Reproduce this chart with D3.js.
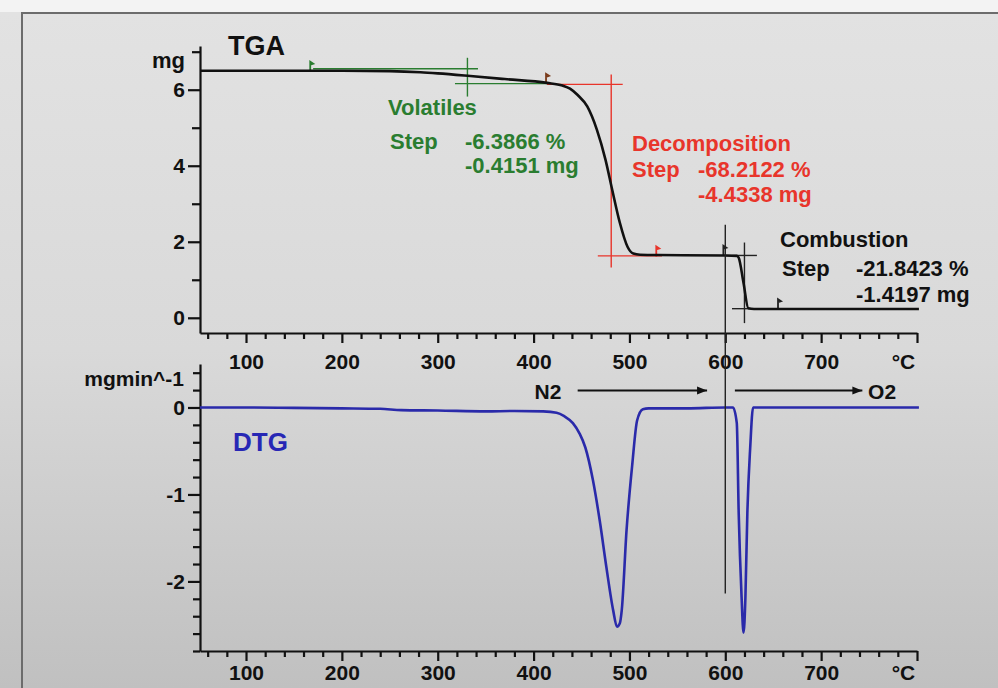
<!DOCTYPE html>
<html>
<head>
<meta charset="utf-8">
<script src="https://cdn.jsdelivr.net/npm/d3@7"></script>
<style>
  html, body { margin: 0; padding: 0; background: #f2f2f2; }
  svg { display: block; }
  text { font-family: "Liberation Sans", Arial, sans-serif; font-weight: bold; }
</style>
</head>
<body>
<svg id="chart" width="998" height="688"></svg>
<script>
// ---------------- DATA ----------------
// TGA curve (temperature °C, mass mg)
const tgaTemp = [52, 100, 150, 200, 250, 282, 300, 334, 370, 414, 430, 438, 446, 456, 466, 475, 482, 490, 498, 504, 511, 530, 600, 612, 614, 619, 624, 630, 700, 802];
const tgaMass = [6.50, 6.50, 6.50, 6.50, 6.49, 6.46, 6.43, 6.36, 6.28, 6.18, 6.11, 6.03, 5.86, 5.56, 4.95, 4.16, 3.37, 2.50, 1.87, 1.69, 1.66, 1.65, 1.64, 1.63, 1.58, 0.92, 0.25, 0.23, 0.23, 0.23];

// DTG curve (temperature °C, rate mg/min)
const dtgTemp = [52, 100, 150, 200, 240, 262, 300, 350, 380, 410, 424, 432, 441, 448, 454, 462, 469, 476, 483, 487, 490, 492, 497, 503, 508, 514, 520, 560, 600, 608, 612, 614, 617, 619, 621, 623, 626, 629, 640, 700, 802];
const dtgRate = [0.00, 0.00, -0.005, -0.01, -0.015, -0.03, -0.035, -0.045, -0.04, -0.045, -0.06, -0.10, -0.18, -0.30, -0.46, -0.84, -1.30, -1.84, -2.33, -2.52, -2.48, -2.33, -1.41, -0.65, -0.15, -0.02, -0.01, -0.01, 0.00, 0.00, -0.18, -1.22, -2.18, -2.59, -2.18, -1.22, -0.46, 0.00, 0.00, 0.00, 0.00];

// Axis ticks
const xMajorTicks = [100, 200, 300, 400, 500, 600, 700, 800];
const xTickLabels = ["100", "200", "300", "400", "500", "600", "700", "°C"];
const tgaYTicks = [0, 2, 4, 6];
const tgaYMinor = [1, 3, 5, 7];
const dtgYTicks = [0, -1, -2];
const dtgYTickLabels = ["0", "-1", "-2"];

// Panel titles and units
const tgaTitle = "TGA";
const dtgTitle = "DTG";
const tgaUnit = "mg";
const dtgUnit = "mgmin^-1";

// Step evaluations
const stepNames = ["Volatiles", "Decomposition", "Combustion"];
const stepPercent = ["-6.3866 %", "-68.2122 %", "-21.8423 %"];
const stepMass = ["-0.4151 mg", "-4.4338 mg", "-1.4197 mg"];
const stepColors = ["#2a7d30", "#e8352b", "#111111"];

// Atmosphere switch
const gasLabels = ["N2", "O2"];
const gasSwitchTemp = 600;

// ---------------- CHART ----------------
const svg = d3.select("#chart");

const defs = svg.append("defs");
const grad = defs.append("linearGradient").attr("id", "bg").attr("x1", 0).attr("y1", 0).attr("x2", 0).attr("y2", 1);
grad.append("stop").attr("offset", "0%").attr("stop-color", "#e2e2e2");
grad.append("stop").attr("offset", "50%").attr("stop-color", "#d9d9d9");
grad.append("stop").attr("offset", "100%").attr("stop-color", "#c0c0c0");

svg.append("rect").attr("x", 0).attr("y", 0).attr("width", 998).attr("height", 688).attr("fill", "#f3f3f3");
svg.append("rect").attr("x", 0).attr("y", 12).attr("width", 998).attr("height", 676).attr("fill", "url(#bg)");
svg.append("path").attr("d", "M22,688 L22,13 L998,13").attr("fill", "none").attr("stroke", "#6c6c6c").attr("stroke-width", 2);

const x = d3.scaleLinear().domain([52, 800]).range([200, 917]);
const yT = d3.scaleLinear().domain([-0.4, 7.15]).range([333, 46]);
const yD = d3.scaleLinear().domain([-2.8, 0.5]).range([651, 364]);

function styleAxis(g) {
  g.selectAll("path.domain").attr("stroke", "#111").attr("stroke-width", 2.2);
  g.selectAll(".tick line").attr("stroke", "#111").attr("stroke-width", 2.2);
  g.selectAll(".tick text").attr("fill", "#111").style("font-size", "21px").style("font-family", "'Liberation Sans', Arial, sans-serif").style("font-weight", "bold");
}

const xMinor = d3.range(60, 800, 20).filter(v => v % 100 !== 0);

function drawXAxis(yPos, pad) {
  const gm = svg.append("g").attr("transform", `translate(0,${yPos})`)
    .call(d3.axisBottom(x).tickValues(xMinor).tickSize(6).tickFormat(""));
  gm.select("path.domain").remove();
  styleAxis(gm);
  const g = svg.append("g").attr("transform", `translate(0,${yPos})`)
    .call(d3.axisBottom(x).tickValues(xMajorTicks).tickSize(10).tickSizeOuter(0).tickPadding(pad)
      .tickFormat((d, i) => xTickLabels[i]));
  styleAxis(g);
  g.selectAll(".tick text").filter(d => d === 800).attr("dx", -14);
}

function drawYAxis(scale, major, minor, labels, minorSize) {
  const gm = svg.append("g").attr("transform", "translate(200,0)")
    .call(d3.axisLeft(scale).tickValues(minor).tickSize(minorSize).tickFormat(""));
  gm.select("path.domain").remove();
  styleAxis(gm);
  const g = svg.append("g").attr("transform", "translate(200,0)")
    .call(d3.axisLeft(scale).tickValues(major).tickSize(12).tickSizeOuter(0).tickPadding(3)
      .tickFormat((d, i) => labels[i]));
  styleAxis(g);
}

// Axes
drawXAxis(333, 11);
drawXAxis(651, 4);
drawYAxis(yT, tgaYTicks, tgaYMinor, tgaYTicks.map(String), 8);
const dtgMinor = d3.range(-2.8, 0.41, 0.2).map(v => +v.toFixed(1)).filter(v => !dtgYTicks.includes(v));
drawYAxis(yD, dtgYTicks, dtgMinor, dtgYTickLabels, 7);

// Units and titles
svg.append("text").attr("x", 185).attr("y", 68).attr("text-anchor", "end").style("font-size", "22px").attr("fill", "#111").text(tgaUnit);
svg.append("text").attr("x", 184).attr("y", 386).attr("text-anchor", "end").style("font-size", "21px").attr("fill", "#111").text(dtgUnit);
svg.append("text").attr("x", 228).attr("y", 55).style("font-size", "27px").attr("fill", "#111").text(tgaTitle);
svg.append("text").attr("x", 233).attr("y", 451).style("font-size", "26px").attr("fill", "#2727b5").text(dtgTitle);

// Evaluation construction lines (data coordinates)
function seg(t1, m1, t2, m2, color, ys) {
  svg.append("line")
    .attr("x1", x(t1)).attr("y1", ys(m1)).attr("x2", x(t2)).attr("y2", ys(m2))
    .attr("stroke", color).attr("stroke-width", 1.4);
}
// Volatiles (green)
seg(170, 6.55, 342, 6.55, stepColors[0], yT);
seg(318, 6.16, 414, 6.16, stepColors[0], yT);
seg(331, 6.84, 331, 5.82, stepColors[0], yT);
// Decomposition (red)
seg(414, 6.14, 493, 6.14, stepColors[1], yT);
seg(481, 6.40, 481, 1.32, stepColors[1], yT);
seg(467, 1.63, 534, 1.63, stepColors[1], yT);
// Combustion (black)
seg(600, 1.64, 633, 1.64, "#222", yT);
seg(620, 1.98, 620, -0.14, "#222", yT);
seg(607, 0.24, 630, 0.24, "#222", yT);

// small evaluation limit flags
function flag(t, m, color) {
  const px = x(t), py = yT(m);
  svg.append("path").attr("d", `M${px},${py + 4} L${px},${py - 6} L${px + 3},${py - 4} L${px},${py - 3}`)
    .attr("fill", "none").attr("stroke", color).attr("stroke-width", 1.8);
}
flag(167, 6.58, stepColors[0]);
flag(413, 6.26, "#7a3a1a");
flag(528, 1.72, stepColors[1]);
flag(598, 1.74, "#222");
flag(655, 0.33, "#222");

// TGA curve
const lineT = d3.line().x((d, i) => x(tgaTemp[i])).y((d, i) => yT(tgaMass[i])).curve(d3.curveMonotoneX);
svg.append("path").datum(tgaMass).attr("d", lineT).attr("fill", "none").attr("stroke", "#111").attr("stroke-width", 2.6);

// DTG curve
const lineD = d3.line().x((d, i) => x(dtgTemp[i])).y((d, i) => yD(dtgRate[i])).curve(d3.curveMonotoneX);
svg.append("path").datum(dtgRate).attr("d", lineD).attr("fill", "none").attr("stroke", "#2a2aaa").attr("stroke-width", 2.6);

// Gas switch vertical line
svg.append("line").attr("x1", x(gasSwitchTemp)).attr("x2", x(gasSwitchTemp))
  .attr("y1", yT(2.45)).attr("y2", yD(-2.14)).attr("stroke", "#222").attr("stroke-width", 1.4);

// Arrows
defs.append("marker").attr("id", "arr").attr("viewBox", "0 0 10 10").attr("refX", 10).attr("refY", 5)
  .attr("markerWidth", 10).attr("markerHeight", 10).attr("markerUnits", "userSpaceOnUse").attr("orient", "auto")
  .append("path").attr("d", "M0,1 L10,5 L0,9 Z").attr("fill", "#111");
const arrowY = yD(0.195);
svg.append("line").attr("x1", x(446)).attr("x2", x(581)).attr("y1", arrowY).attr("y2", arrowY)
  .attr("stroke", "#111").attr("stroke-width", 2).attr("marker-end", "url(#arr)");
svg.append("line").attr("x1", x(610)).attr("x2", x(743)).attr("y1", arrowY).attr("y2", arrowY)
  .attr("stroke", "#111").attr("stroke-width", 2).attr("marker-end", "url(#arr)");
svg.append("text").attr("x", x(401)).attr("y", arrowY + 8).style("font-size", "21px").attr("fill", "#111").text(gasLabels[0]);
svg.append("text").attr("x", x(749)).attr("y", arrowY + 8).style("font-size", "21px").attr("fill", "#111").text(gasLabels[1]);

// Step annotation text blocks
const blocks = [
  { x0: 388, xs: 390, xv: 465, y: [115, 149, 173] },
  { x0: 632, xs: 632, xv: 698, y: [151, 177, 202] },
  { x0: 780, xs: 782, xv: 856, y: [247, 276, 302] }
];
blocks.forEach((b, i) => {
  const g = svg.append("g").attr("fill", stepColors[i]).style("font-size", "22px");
  g.append("text").attr("x", b.x0).attr("y", b.y[0]).text(stepNames[i]);
  g.append("text").attr("x", b.xs).attr("y", b.y[1]).text("Step");
  g.append("text").attr("x", b.xv).attr("y", b.y[1]).text(stepPercent[i]);
  g.append("text").attr("x", b.xv).attr("y", b.y[2]).text(stepMass[i]);
});
</script>
</body>
</html>
